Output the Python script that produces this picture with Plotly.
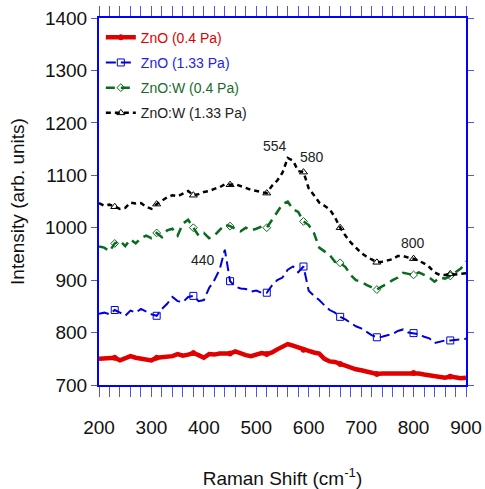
import plotly.graph_objects as go

x_shift = list(range(200, 901, 10))

zno_04 = [750, 751, 752, 752, 747, 750, 755, 752, 751, 748, 747, 752, 753, 756, 755, 759, 756, 758, 761, 757,
          752, 759, 758, 760, 761, 760, 764, 760, 757, 755, 758, 761, 759, 762, 768, 773, 778, 775, 771, 767,
          765, 762, 760, 750, 745, 744, 740, 737, 733, 730, 728, 725, 722, 721, 722, 722, 722, 722, 723, 724,
          723, 722, 720, 718, 716, 715, 714, 716, 714, 713, 714]

zno_133 = [836, 838, 835, 843, 838, 832, 842, 838, 845, 840, 835, 832, 845, 855, 868, 860, 858, 868, 870, 860,
           862, 885, 900, 920, 958, 898, 888, 884, 883, 878, 880, 876, 876, 890, 900, 905, 920, 926, 915, 926,
           880, 870, 862, 852, 843, 838, 830, 825, 818, 812, 808, 802, 795, 791, 792, 795, 797, 803, 806, 800,
           799, 797, 792, 789, 780, 782, 785, 785, 786, 787, 788]

znow_04 = [964, 962, 955, 970, 975, 965, 978, 970, 980, 985, 980, 990, 982, 995, 998, 985, 1008, 1015, 1000, 985,
           990, 980, 985, 995, 1006, 1003, 998, 993, 1000, 995, 998, 1002, 1000, 1015, 1030, 1045, 1050, 1035, 1030, 1012,
           1005, 990, 962, 955, 948, 935, 933, 925, 910, 900, 897, 891, 887, 882, 888, 893, 900, 905, 914, 912,
           910, 915, 910, 905, 897, 905, 903, 908, 915, 922, 936]

znow_133 = [1047, 1042, 1044, 1040, 1036, 1038, 1048, 1046, 1047, 1040, 1036, 1045, 1052, 1058, 1062, 1060, 1065, 1070, 1062, 1064,
            1068, 1070, 1074, 1077, 1083, 1082, 1083, 1080, 1076, 1072, 1070, 1068, 1066, 1080, 1090, 1105, 1133, 1128, 1108, 1106,
            1075, 1062, 1048, 1042, 1035, 1020, 1000, 985, 972, 962, 952, 945, 940, 934, 935, 937, 940, 946, 946, 943,
            941, 937, 932, 925, 915, 910, 910, 912, 911, 912, 913]

marker_x = [230, 310, 380, 450, 520, 590, 660, 730, 800, 870]

peak_labels = ["554", "580", "800", "440"]
peak_x = [536, 606, 799, 399]
peak_y = [1155, 1135, 970, 939]

series = [
    ("ZnO (0.4 Pa)", zno_04, "#e00000", "#e00000", 4.5, "solid", "circle", 5),
    ("ZnO (1.33 Pa)", zno_133, "#0000dd", "#2222ee", 2, "10px,5px", "square-open", 7),
    ("ZnO:W (0.4 Pa)", znow_04, "#0a6b1e", "#1a6b2a", 2.5, "9px,6px", "diamond-open", 6),
    ("ZnO:W (1.33 Pa)", znow_133, "#000000", "#222222", 2.5, "5px,4px", "triangle-up-open", 7),
]

fig = go.Figure()
for i, (name, vals, col, tcol, w, dash, sym, ms) in enumerate(series):
    fig.add_trace(go.Scatter(
        x=x_shift, y=vals, mode="lines", showlegend=False,
        line=dict(color=col, width=w, dash=dash),
    ))
    mx = [xv for xv in x_shift if xv in marker_x]
    my = [v for xv, v in zip(x_shift, vals) if xv in marker_x]
    fig.add_trace(go.Scatter(
        x=mx, y=my, mode="markers", showlegend=False,
        marker=dict(symbol=sym, size=ms, color=col, line=dict(color=col, width=1)),
    ))
    fig.add_trace(go.Scatter(
        x=[None], y=[None], mode="lines+markers",
        name=f'<span style="color:{tcol}">{name}</span>',
        legendgroup=f"g{i}",
        line=dict(color=col, width=w, dash=dash),
        marker=dict(symbol=sym, size=ms, color=col, line=dict(color=col, width=1)),
    ))

for t, xv, yv in zip(peak_labels, peak_x, peak_y):
    fig.add_annotation(x=xv, y=yv, text=t, showarrow=False,
                       font=dict(size=14, color="#222222", family="Liberation Sans"))

axis_common = dict(
    showline=True, linecolor="#0000ff", linewidth=2, mirror="allticks",
    ticks="outside", tickcolor="#5555ee", tickwidth=1,
    showgrid=False, zeroline=False, automargin=False,
    tickfont=dict(size=19, color="#111111", family="Liberation Sans"),
)

fig.update_xaxes(range=[200, 900], dtick=100, ticklen=10, ticklabelstandoff=14,
                 minor=dict(dtick=20, ticks="outside", ticklen=10, tickcolor="#5555ee", tickwidth=1),
                 title=dict(text="Raman Shift (cm<sup>-1</sup>)", standoff=35,
                            font=dict(size=19, color="#111111", family="Liberation Sans")),
                 **axis_common)
fig.update_yaxes(range=[700, 1400], dtick=100, ticklen=6,
                 title=dict(text="Intensity (arb. units)", standoff=15,
                            font=dict(size=19, color="#111111", family="Liberation Sans")),
                 **axis_common)

fig.update_layout(
    width=485, height=489,
    margin=dict(l=99, r=19, t=18, b=104),
    plot_bgcolor="white", paper_bgcolor="white",
    font=dict(family="Liberation Sans"),
    legend=dict(x=0.005, y=0.99, xanchor="left", yanchor="top",
                bgcolor="rgba(0,0,0,0)", font=dict(size=14, family="Liberation Sans"),
                tracegroupgap=4, itemwidth=30),
    showlegend=True,
)

fig.write_html("out.html")
